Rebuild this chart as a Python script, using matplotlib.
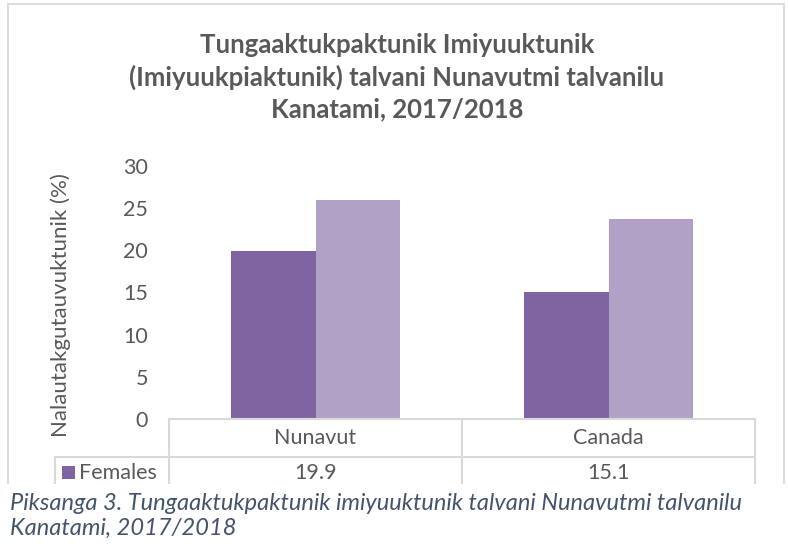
import numpy as np
import matplotlib
matplotlib.use("Agg")
import matplotlib.pyplot as plt
from matplotlib.patches import Rectangle
from matplotlib.lines import Line2D

categories = ["Nunavut", "Canada"]
series_names = ["Females", "Males"]
females = [19.9, 15.1]
males = [26.0, 23.7]
yticks = [0, 5, 10, 15, 20, 25, 30]
title = ("Tungaaktukpaktunik Imiyuuktunik\n"
         "(Imiyuukpiaktunik) talvani Nunavutmi talvanilu\n"
         "Kanatami, 2017/2018")
ylabel = "Nalautakgutauvuktunik (%)"
caption = ("Piksanga 3. Tungaaktukpaktunik imiyuuktunik talvani Nunavutmi talvanilu\n"
           "Kanatami, 2017/2018")

W, H = 788, 544
FONT = "Lato"
GREY = "#595959"
LINE = "#d9d9d9"
DARK = "#8064A2"
LIGHT = "#B2A1C7"
FS = 15.5

fig = plt.figure(figsize=(W / 100, H / 100), dpi=100)


def fx(x):
    return x / W


def fy(y):
    return 1 - y / H


# outer chart frame
fig.add_artist(Rectangle((fx(8), fy(540)), fx(784) - fx(8), fy(4) - fy(540),
                         transform=fig.transFigure, fill=False, ec=LINE, lw=1.3))

# plot area
L, R, T, B = 169, 755, 166, 419
ax = fig.add_axes([fx(L), fy(B), (R - L) / W, (B - T) / H])
x = np.arange(len(categories))
w = 0.287
ax.bar(x - w / 2, females, w, color=DARK)
ax.bar(x + w / 2, males, w, color=LIGHT)
ax.set_xlim(-0.5, len(categories) - 0.5)
ax.set_ylim(0, 30)
ax.set_yticks(yticks)
ax.set_yticklabels([str(t) for t in yticks], fontsize=FS, color=GREY, family=FONT)
ax.tick_params(axis="y", length=0, pad=15)
ax.set_xticks([])
for s in ax.spines.values():
    s.set_visible(False)

fig.text(fx(61), fy(305), ylabel, rotation=90, ha="center", va="center",
         fontsize=16, color=GREY, family=FONT)

fig.text(fx(397), fy(77), title, ha="center", va="center", fontsize=18.5,
         fontweight="bold", color=GREY, family=FONT, linespacing=1.35)

# data table
row1, row2, row3 = 419, 457, 500
mid = (L + R) / 2
lw = 1.5
segs = [
    ((L, row1), (R, row1)),
    ((55, row2), (R, row2)),
    ((L, row1), (L, row3)),
    ((mid, row1), (mid, row3)),
    ((R, row1), (R, row3)),
    ((55, row2), (55, row3)),
]
for (x0, y0), (x1, y1) in segs:
    fig.add_artist(Line2D([fx(x0), fx(x1)], [fy(y0), fy(y1)], transform=fig.transFigure,
                          color=LINE, lw=lw))

centers = [L + (R - L) * (i + 0.5) / len(categories) for i in range(len(categories))]
for cx, name, val in zip(centers, categories, females):
    fig.text(fx(cx), fy(438), name, ha="center", va="center", fontsize=FS,
             color=GREY, family=FONT)
    fig.text(fx(cx), fy(473), f"{val:.1f}", ha="center", va="center", fontsize=FS,
             color=GREY, family=FONT)
fig.add_artist(Rectangle((fx(62), fy(479)), 13 / W, 13 / H, transform=fig.transFigure,
                         color=DARK, lw=0))
fig.text(fx(79), fy(473), series_names[0], ha="left", va="center", fontsize=FS,
         color=GREY, family=FONT)

# white caption band covering the bottom of the chart
fig.add_artist(Rectangle((0, 0), 1, fy(484), transform=fig.transFigure,
                         color="white", lw=0, zorder=5))
fig.text(fx(10), fy(516), caption, ha="left", va="center", fontsize=17,
         style="italic", color="#44546A", family=FONT, linespacing=1.25, zorder=6)

fig.savefig("out.png", dpi=100, facecolor="white")
